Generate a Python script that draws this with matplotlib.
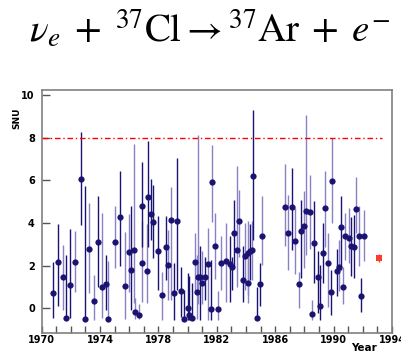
import matplotlib
matplotlib.use("Agg")
import matplotlib.pyplot as plt
import numpy as np

plt.rcParams['mathtext.fontset'] = 'stix'

# run data: year, SNU value, lower end, upper end, dark bar?
years = [1970.79, 1971.09, 1971.43, 1971.68, 1971.94, 1972.30, 1972.69, 1972.99,
         1973.26, 1973.60, 1973.88, 1974.10, 1974.40, 1974.56, 1975.00, 1975.36,
         1975.68, 1975.95, 1976.09, 1976.34, 1976.39, 1976.66, 1976.84, 1976.89,
         1977.20, 1977.25, 1977.46, 1977.64, 1977.94, 1978.21, 1978.49, 1978.67,
         1978.85, 1979.08, 1979.24, 1979.51, 1979.74, 1979.99, 1980.11, 1980.27,
         1980.50, 1980.66, 1980.74, 1980.84, 1980.96, 1981.19, 1981.41, 1981.59,
         1981.64, 1981.90, 1982.09, 1982.27, 1982.62, 1982.91, 1983.07, 1983.19,
         1983.37, 1983.53, 1983.76, 1983.92, 1984.10, 1984.15, 1984.28, 1984.44,
         1984.51, 1984.72, 1984.95, 1985.11, 1986.66, 1986.89, 1987.12, 1987.37,
         1987.66, 1987.75, 1987.94, 1988.11, 1988.37, 1988.55, 1988.64, 1988.91,
         1989.10, 1989.30, 1989.44, 1989.64, 1989.83, 1989.92, 1990.21, 1990.40,
         1990.49, 1990.67, 1990.79, 1991.06, 1991.20, 1991.42, 1991.52, 1991.72,
         1991.90, 1992.06]
snu = [0.70, 2.19, 1.45, -0.47, 1.09, 2.19, 6.07, -0.50,
       2.80, 0.33, 3.09, 1.00, 1.13, -0.50, 3.09, 4.27,
       1.05, 2.64, 1.78, 2.72, -0.16, -0.33, 2.12, 4.79,
       1.75, 5.24, 4.42, 4.07, 2.69, 0.63, 2.88, 2.03,
       4.13, 0.73, 4.08, 0.81, -0.50, 0.00, -0.34, -0.47,
       2.15, 0.75, 1.48, 1.48, 1.20, 1.48, 2.06, -0.05,
       5.94, 2.92, -0.05, 2.11, 2.22, 2.08, 1.95, 3.52,
       2.74, 4.11, 1.30, 2.45, 2.58, 1.17, 2.69, 2.74,
       6.22, -0.48, 1.12, 3.38, 4.75, 3.55, 4.75, 3.17,
       1.15, 3.64, 3.86, 4.58, 4.52, -0.27, 3.08, 1.48,
       0.10, 2.61, 4.69, 2.14, 0.75, 5.96, 1.73, 1.92,
       3.80, 1.00, 3.38, 3.30, 2.92, 2.86, 4.67, 3.39,
       0.59, 3.39]
snu_lo = [-0.47, 0.08, -0.08, -0.47, -0.47, 0.78, 3.91, -0.50,
          0.70, -0.55, 1.00, -0.47, -0.10, -0.50, 1.87, 2.00,
          -0.50, 0.74, -0.08, 0.23, -0.50, -0.50, 0.30, 2.89,
          0.23, 2.89, 3.20, 2.35, 0.86, -0.55, 1.30, 0.39,
          0.39, -0.55, 0.86, -0.40, -0.50, -0.55, -0.55, -0.55,
          0.78, -0.50, 0.20, -0.55, 0.20, 0.40, -0.55, -0.55,
          4.07, 1.35, -0.55, 0.86, 0.30, 0.30, 0.86, 1.95,
          1.00, 2.42, 0.30, 0.86, 0.60, 0.23, 1.30, 1.30,
          3.20, -0.55, 0.10, 2.03, 2.90, 1.80, 2.74, 1.60,
          0.00, 1.40, 1.90, 2.50, 2.80, -0.55, 1.17, -0.25,
          -0.55, 1.17, 2.89, 0.05, -0.30, 3.99, 0.55, 0.80,
          1.80, 0.20, 2.25, 2.10, 1.50, 1.40, 3.52, 2.00,
          -0.20, 2.20]
snu_hi = [2.19, 3.94, 2.97, 2.50, 3.70, 3.62, 8.26, 5.75,
          4.92, 1.55, 5.26, 4.45, 2.50, 2.20, 4.80, 6.45,
          3.60, 4.40, 4.80, 7.69, 0.50, 0.20, 4.10, 6.85,
          3.94, 7.85, 6.07, 5.79, 4.33, 1.72, 4.33, 3.68,
          5.70, 2.10, 7.04, 1.95, 0.85, 1.65, 1.50, 1.20,
          3.55, 2.50, 8.13, 2.90, 2.70, 2.40, 3.75, 2.27,
          7.66, 4.45, 0.80, 3.37, 3.99, 3.41, 2.42, 5.08,
          6.68, 5.55, 2.90, 4.00, 4.10, 2.42, 3.95, 4.10,
          9.31, 1.00, 2.10, 5.27, 6.77, 5.30, 6.57, 4.70,
          1.70, 5.08, 5.50, 9.07, 6.25, 0.40, 5.03, 2.70,
          2.03, 4.02, 6.44, 3.52, 1.80, 7.98, 2.80, 3.20,
          5.27, 1.95, 4.45, 4.70, 4.30, 4.37, 6.14, 4.80,
          1.40, 4.60]
dark = [1, 1, 0, 1, 1, 0, 1, 1,
        0, 0, 1, 0, 1, 0, 0, 1,
        0, 0, 1, 0, 0, 0, 0, 1,
        0, 1, 1, 1, 1, 0, 1, 0,
        0, 1, 1, 1, 1, 1, 1, 1,
        0, 0, 0, 1, 0, 1, 0, 1,
        0, 0, 0, 0, 0, 1, 1, 1,
        0, 0, 1, 0, 0, 0, 1, 0,
        1, 1, 1, 0, 0, 0, 1, 0,
        0, 1, 0, 0, 0, 0, 1, 1,
        1, 1, 0, 0, 1, 0, 1, 0,
        1, 0, 0, 0, 1, 1, 0, 0,
        1, 0]

# the red point at the right
red_year = [1993.09]
red_snu = [2.35]
red_err = [0.2]

limit_snu = 8.0
limit_span = (1970.0, 1993.3)

navy = '#1b1372'
lavender = '#8a80c6'

fig = plt.figure(figsize=(4.01, 3.52), dpi=100)
ax = fig.add_axes([0.104, 0.055, 0.8736, 0.6895])

bar_colors = [navy if d else lavender for d in dark]
ax.vlines(years, snu_lo, snu_hi, colors=bar_colors, linewidth=1.0)
ax.plot(years, snu, 'o', color=navy, markersize=4.5, markeredgewidth=0)

ax.errorbar(red_year, red_snu, yerr=red_err, fmt='s', color='#ff3b30',
            markersize=3.8, markeredgewidth=0, elinewidth=1.0)

ax.hlines(limit_snu, *limit_span, colors='red', linewidth=1.0,
          linestyles=(0, (4, 2, 1, 2)))

ax.set_xlim(1970, 1994)
ax.set_ylim(-1.15, 10.25)
ax.set_xticks(np.arange(1970, 1995, 1))
ax.set_xticklabels([str(y) if y % 4 == 2 else '' for y in range(1970, 1995)])
ax.set_yticks([0, 2, 4, 6, 8, 10])
ax.tick_params(axis='both', direction='in', color='#555555', width=1.0,
               labelsize=7)
ax.tick_params(axis='x', length=5, pad=2)
ax.tick_params(axis='y', length=6, pad=5)
for lab in ax.get_xticklabels() + ax.get_yticklabels():
    lab.set_fontweight('bold')
for s in ax.spines.values():
    s.set_color('#808080')
    s.set_linewidth(1.2)

fig.text(17 / 401, 1 - 118 / 352, 'SNU', rotation=90, fontsize=6.5,
         fontweight='bold', ha='center', va='center')
fig.text(364 / 401, 1 - 348 / 352, 'Year', fontsize=7.5,
         fontweight='bold', ha='center', va='center')

fig.text(0.524, 1 - 29 / 352,
         r'$\nu_e \;+\; {}^{37}\mathrm{Cl} \rightarrow {}^{37}\mathrm{Ar} \;+\; e^{-}$',
         fontsize=28, ha='center', va='center')

fig.savefig('out.png', dpi=100)
